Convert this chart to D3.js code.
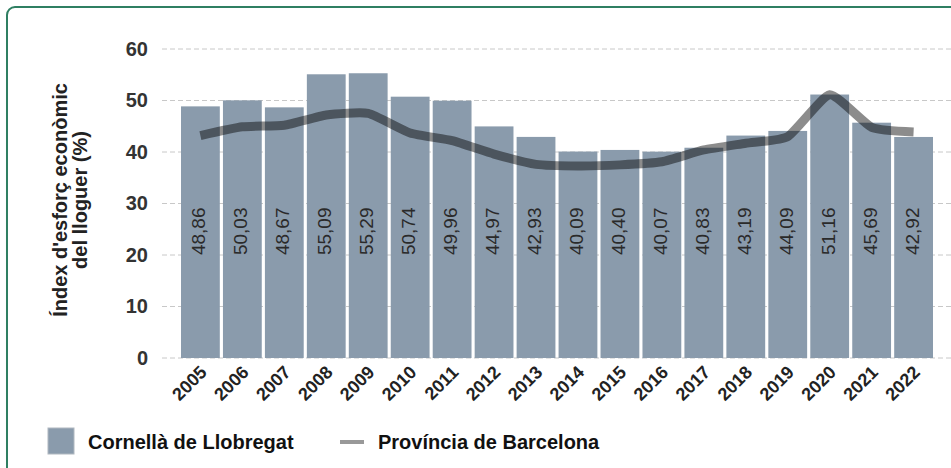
<!DOCTYPE html>
<html>
<head>
<meta charset="utf-8">
<script src="https://cdn.jsdelivr.net/npm/d3@7"></script>
<style>
  body { margin: 0; background: #fff; }
  svg { display: block; font-family: "Liberation Sans", Arial, sans-serif; }
</style>
</head>
<body>
<div id="chart"></div>
<script>
// Data
var years = ["2005", "2006", "2007", "2008", "2009", "2010", "2011", "2012", "2013",
  "2014", "2015", "2016", "2017", "2018", "2019", "2020", "2021", "2022"];
var cornella = [48.86, 50.03, 48.67, 55.09, 55.29, 50.74, 49.96, 44.97, 42.93,
  40.09, 40.40, 40.07, 40.83, 43.19, 44.09, 51.16, 45.69, 42.92];
var provincia = [43.2, 44.9, 45.2, 47.2, 47.5, 43.7, 42.2, 39.6, 37.6,
  37.3, 37.5, 38.1, 40.4, 41.7, 43.0, 51.1, 44.8, 43.9];
var yTicks = [0, 10, 20, 30, 40, 50, 60];

var width = 951, height = 468;

var svg = d3.select("#chart")
  .append("svg")
  .attr("width", width)
  .attr("height", height);

// green frame (runs off the right and bottom edges)
svg.append("rect")
  .attr("x", 7).attr("y", 7)
  .attr("width", 980).attr("height", 500)
  .attr("rx", 8)
  .attr("fill", "none")
  .attr("stroke", "#2f7f62")
  .attr("stroke-width", 2);

// scales
var x = d3.scaleBand()
  .domain(years)
  .range([181, 933])
  .paddingInner(0.075)
  .paddingOuter(0.0);

var y = d3.scaleLinear()
  .domain([0, 60])
  .range([358, 49]);

// grid lines
svg.append("g")
  .selectAll("line")
  .data(yTicks)
  .join("line")
  .attr("x1", 162)
  .attr("x2", width)
  .attr("y1", d => y(d))
  .attr("y2", d => y(d))
  .attr("stroke", "#c8c8c8")
  .attr("stroke-width", 1)
  .attr("stroke-dasharray", "5,3");

// y axis labels
var yAxis = svg.append("g")
  .attr("transform", "translate(148,0)")
  .call(d3.axisLeft(y).tickValues(yTicks).tickSize(0).tickPadding(0));
yAxis.select(".domain").remove();
yAxis.selectAll("text")
  .attr("fill", "#333")
  .style("font-size", "20px")
  .style("font-weight", "bold");

// y axis title, two lines
var titleLines = ["Índex d'esforç econòmic", "del lloguer (%)"];
svg.append("g")
  .selectAll("text")
  .data(titleLines)
  .join("text")
  .attr("transform", (d, i) => "translate(" + (67 + i * 20) + ",200) rotate(-90)")
  .attr("text-anchor", "middle")
  .attr("fill", "#222")
  .style("font-size", "20px")
  .style("font-weight", "bold")
  .text(d => d);

// bars
svg.append("g")
  .selectAll("rect")
  .data(years)
  .join("rect")
  .attr("x", d => x(d))
  .attr("width", x.bandwidth())
  .attr("y", (d, i) => y(cornella[i]))
  .attr("height", (d, i) => y(0) - y(cornella[i]))
  .attr("fill", "#8a9bac");

// value labels inside bars
svg.append("g")
  .selectAll("text")
  .data(years)
  .join("text")
  .attr("transform", d => "translate(" + (x(d) + x.bandwidth() / 2 + 5) + "," + y(24.6) + ") rotate(-90)")
  .attr("text-anchor", "middle")
  .attr("fill", "#2a2a2a")
  .style("font-size", "19px")
  .text((d, i) => cornella[i].toFixed(2).replace(".", ","));

// province line
var line = d3.line()
  .x((d, i) => x(years[i]) + x.bandwidth() / 2)
  .y(d => y(d))
  .curve(d3.curveCardinal.tension(0.5));

svg.append("path")
  .datum(provincia)
  .attr("d", line)
  .attr("fill", "none")
  .attr("stroke", "#000")
  .attr("stroke-opacity", 0.45)
  .attr("stroke-width", 9)
  .attr("stroke-linejoin", "round");

// x axis labels
var xAxis = svg.append("g")
  .attr("transform", "translate(0,358)")
  .call(d3.axisBottom(x).tickSize(0).tickPadding(0));
xAxis.select(".domain").remove();
xAxis.selectAll("text")
  .attr("transform", "translate(3,11) rotate(-45)")
  .attr("text-anchor", "end")
  .attr("dy", "0.35em")
  .attr("y", 0)
  .attr("fill", "#222")
  .style("font-size", "18px")
  .style("font-weight", "bold");

// legend
var legend = svg.append("g");
legend.append("rect")
  .attr("x", 48).attr("y", 428)
  .attr("width", 26).attr("height", 26)
  .attr("fill", "#8a9bac")
  .attr("stroke", "#b0b8c0")
  .attr("stroke-width", 1);
legend.append("text")
  .attr("x", 88).attr("y", 449)
  .attr("fill", "#111")
  .style("font-size", "20px")
  .style("font-weight", "bold")
  .text("Cornellà de Llobregat");
legend.append("line")
  .attr("x1", 340).attr("x2", 364)
  .attr("y1", 442).attr("y2", 442)
  .attr("stroke", "#999")
  .attr("stroke-width", 4);
legend.append("text")
  .attr("x", 378).attr("y", 449)
  .attr("fill", "#111")
  .style("font-size", "20px")
  .style("font-weight", "bold")
  .text("Província de Barcelona");
</script>
</body>
</html>
